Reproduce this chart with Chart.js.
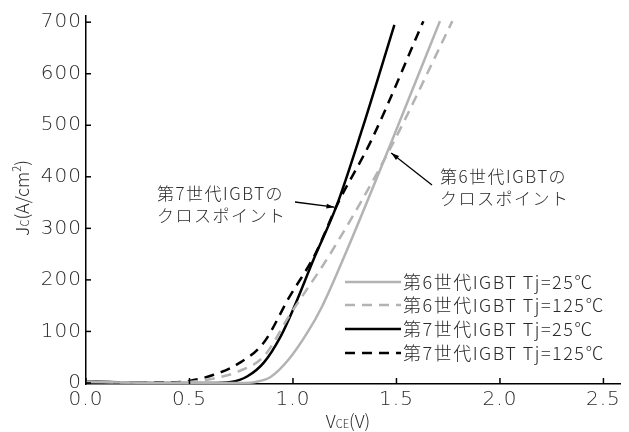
<!DOCTYPE html>
<html lang="ja">
<head>
<meta charset="UTF-8">
<title>IGBT 出力特性</title>
<script src="https://cdn.jsdelivr.net/npm/chart.js@4.4.1/dist/chart.umd.min.js"></script>
<style>
  html, body { margin: 0; padding: 0; background: #fff; }
</style>
</head>
<body>
<canvas id="ic" width="629" height="432"></canvas>
<script>
// values
const xTicks = [0, 0.5, 1.0, 1.5, 2.0, 2.5];
const yTicks = [0, 100, 200, 300, 400, 500, 600, 700];

const seriesNames = ['第6世代IGBT Tj=25℃', '第6世代IGBT Tj=125℃', '第7世代IGBT Tj=25℃', '第7世代IGBT Tj=125℃'];

const gen6_25_v  = [0, 0.2, 0.4, 0.6, 0.75, 0.82, 0.89, 0.98, 1.07, 1.14, 1.26, 1.48, 1.71];
const gen6_25_j  = [2, 1, 0, 0, 0, 2, 11, 46, 98, 148, 257, 472, 702];

const gen6_125_v = [0, 0.2, 0.4, 0.5, 0.61, 0.74, 0.86, 0.98, 1.19, 1.47, 1.77];
const gen6_125_j = [3, 1, 0, 2, 8, 23, 52, 129, 257, 455, 702];

const gen7_25_v  = [0, 0.2, 0.4, 0.6, 0.7, 0.78, 0.86, 0.94, 1.0, 1.1, 1.21, 1.33, 1.49];
const gen7_25_j  = [3, 1, 0, 0, 2, 13, 40, 90, 142, 240, 343, 487, 695];

const gen7_125_v = [0, 0.2, 0.4, 0.5, 0.61, 0.73, 0.86, 0.98, 1.11, 1.21, 1.38, 1.63];
const gen7_125_j = [3, 1, 1, 4, 15, 36, 79, 165, 252, 343, 472, 702];

// cross points (data coords)
const cross7 = { v: 1.21, j: 343 };
const cross6 = { v: 1.465, j: 450 };

const GRAY = '#b3b3b3';
const INK = '#2a2a2a';
const FONT = '"Noto Sans CJK JP", "Noto Sans", sans-serif';
const NUMFONT = '"DejaVu Sans", "Noto Sans CJK JP", sans-serif';

function pts(vs, js) {
    return vs.map((v, i) => ({ x: v, y: js[i] }));
}

function ds(label, vs, js, color, dash) {
    return {
        label: label,
        data: pts(vs, js),
        borderColor: color,
        borderWidth: 2.5,
        borderDash: dash,
        pointRadius: 0,
        showLine: true,
        fill: false,
        cubicInterpolationMode: 'monotone'
    };
}

// text with sub / superscript pieces, centred on x
function drawRich(ctx, parts, size, x, y) {
    let w = 0;
    parts.forEach(p => {
        ctx.font = '300 ' + (p.sub || p.sup ? size * 0.62 : size) + 'px ' + FONT;
        p.w = ctx.measureText(p.t).width;
        w += p.w;
    });
    let cx = x - w / 2;
    parts.forEach(p => {
        ctx.font = '300 ' + (p.sub || p.sup ? size * 0.62 : size) + 'px ' + FONT;
        let dy = 0;
        if (p.sub) dy = size * 0.18;
        if (p.sup) dy = -size * 0.3;
        ctx.fillText(p.t, cx, y + dy);
        cx += p.w;
    });
}

const extras = {
    id: 'extras',
    beforeDraw(chart) {
        chart.ctx.letterSpacing = '1px';
    },
    afterDraw(chart) {
        const { ctx, chartArea: a, scales: { x, y } } = chart;
        ctx.save();
        ctx.letterSpacing = '0px';
        // inner tick marks
        ctx.strokeStyle = '#000';
        ctx.lineWidth = 1.5;
        xTicks.forEach(v => {
            const px = x.getPixelForValue(v);
            ctx.beginPath(); ctx.moveTo(px, a.bottom); ctx.lineTo(px, a.bottom - 6); ctx.stroke();
        });
        yTicks.forEach(v => {
            const py = y.getPixelForValue(v);
            ctx.beginPath(); ctx.moveTo(a.left, py); ctx.lineTo(a.left + 5, py); ctx.stroke();
        });

        // axis titles
        ctx.fillStyle = INK;
        ctx.textBaseline = 'middle';
        ctx.textAlign = 'left';
        drawRich(ctx, [{ t: 'V' }, { t: 'CE', sub: true }, { t: '(V)' }], 18, 348, 421);
        ctx.save();
        ctx.translate(22, 198);
        ctx.rotate(-Math.PI / 2);
        drawRich(ctx, [{ t: 'J' }, { t: 'C', sub: true }, { t: '(A/cm' }, { t: '2', sup: true }, { t: ')' }], 18, 0, 0);
        ctx.restore();

        // legend
        ctx.letterSpacing = '1.5px';
        ctx.font = '300 18px ' + FONT;
        const rows = [282, 305, 329, 353];
        chart.data.datasets.forEach((d, i) => {
            ctx.strokeStyle = d.borderColor;
            ctx.lineWidth = 2.5;
            ctx.setLineDash(d.borderDash || []);
            ctx.beginPath(); ctx.moveTo(345, rows[i]); ctx.lineTo(401, rows[i]); ctx.stroke();
            ctx.setLineDash([]);
            ctx.fillStyle = INK;
            ctx.fillText(d.label, 403, rows[i]);
        });

        // cross point notes
        ctx.font = '300 17px ' + FONT;
        ctx.fillStyle = INK;
        ctx.fillText('第7世代IGBTの', 157, 194);
        ctx.fillText('クロスポイント', 157, 216);
        ctx.fillText('第6世代IGBTの', 440, 177);
        ctx.fillText('クロスポイント', 440, 199);
        arrow(ctx, 295, 202, x.getPixelForValue(cross7.v) - 2, y.getPixelForValue(cross7.j) + 1);
        arrow(ctx, 432, 185, x.getPixelForValue(cross6.v) + 2, y.getPixelForValue(cross6.j) + 2);
        ctx.restore();
    }
};

function arrow(ctx, x0, y0, x1, y1) {
    ctx.strokeStyle = '#000';
    ctx.fillStyle = '#000';
    ctx.lineWidth = 1.3;
    ctx.beginPath(); ctx.moveTo(x0, y0); ctx.lineTo(x1, y1); ctx.stroke();
    const ang = Math.atan2(y1 - y0, x1 - x0);
    const L = 8, W = 2.5;
    ctx.beginPath();
    ctx.moveTo(x1, y1);
    ctx.lineTo(x1 - L * Math.cos(ang) + W * Math.sin(ang), y1 - L * Math.sin(ang) - W * Math.cos(ang));
    ctx.lineTo(x1 - L * Math.cos(ang) - W * Math.sin(ang), y1 - L * Math.sin(ang) + W * Math.cos(ang));
    ctx.closePath();
    ctx.fill();
}

new Chart(document.getElementById('ic'), {
    type: 'scatter',
    data: {
        datasets: [
            ds(seriesNames[0], gen6_25_v, gen6_25_j, GRAY, []),
            ds(seriesNames[1], gen6_125_v, gen6_125_j, GRAY, [10, 7]),
            ds(seriesNames[2], gen7_25_v, gen7_25_j, '#000', []),
            ds(seriesNames[3], gen7_125_v, gen7_125_j, '#000', [10, 7])
        ]
    },
    options: {
        responsive: false,
        animation: false,
        layout: { padding: { top: 12, right: 9, left: 0, bottom: 0 } },
        plugins: { legend: { display: false }, tooltip: { enabled: false } },
        scales: {
            x: {
                type: 'linear',
                min: 0,
                max: 2.58,
                afterFit(s) { s.height = 48; },
                afterBuildTicks(s) { s.ticks = xTicks.map(v => ({ value: v })); },
                grid: { display: false, drawTicks: false },
                border: { display: true, color: '#000', width: 1.5 },
                ticks: {
                    padding: 4,
                    color: INK,
                    font: { family: NUMFONT, size: 20, weight: '200' },
                    maxRotation: 0,
                    callback: v => Number(v).toFixed(1)
                }
            },
            y: {
                type: 'linear',
                min: -2,
                max: 712,
                afterFit(s) { s.width = 86; },
                afterBuildTicks(s) { s.ticks = yTicks.map(v => ({ value: v })); },
                grid: { display: false, drawTicks: false },
                border: { display: true, color: '#000', width: 1.5 },
                ticks: {
                    padding: 4,
                    color: INK,
                    font: { family: NUMFONT, size: 20, weight: '200' }
                }
            }
        }
    },
    plugins: [extras]
});
</script>
</body>
</html>
